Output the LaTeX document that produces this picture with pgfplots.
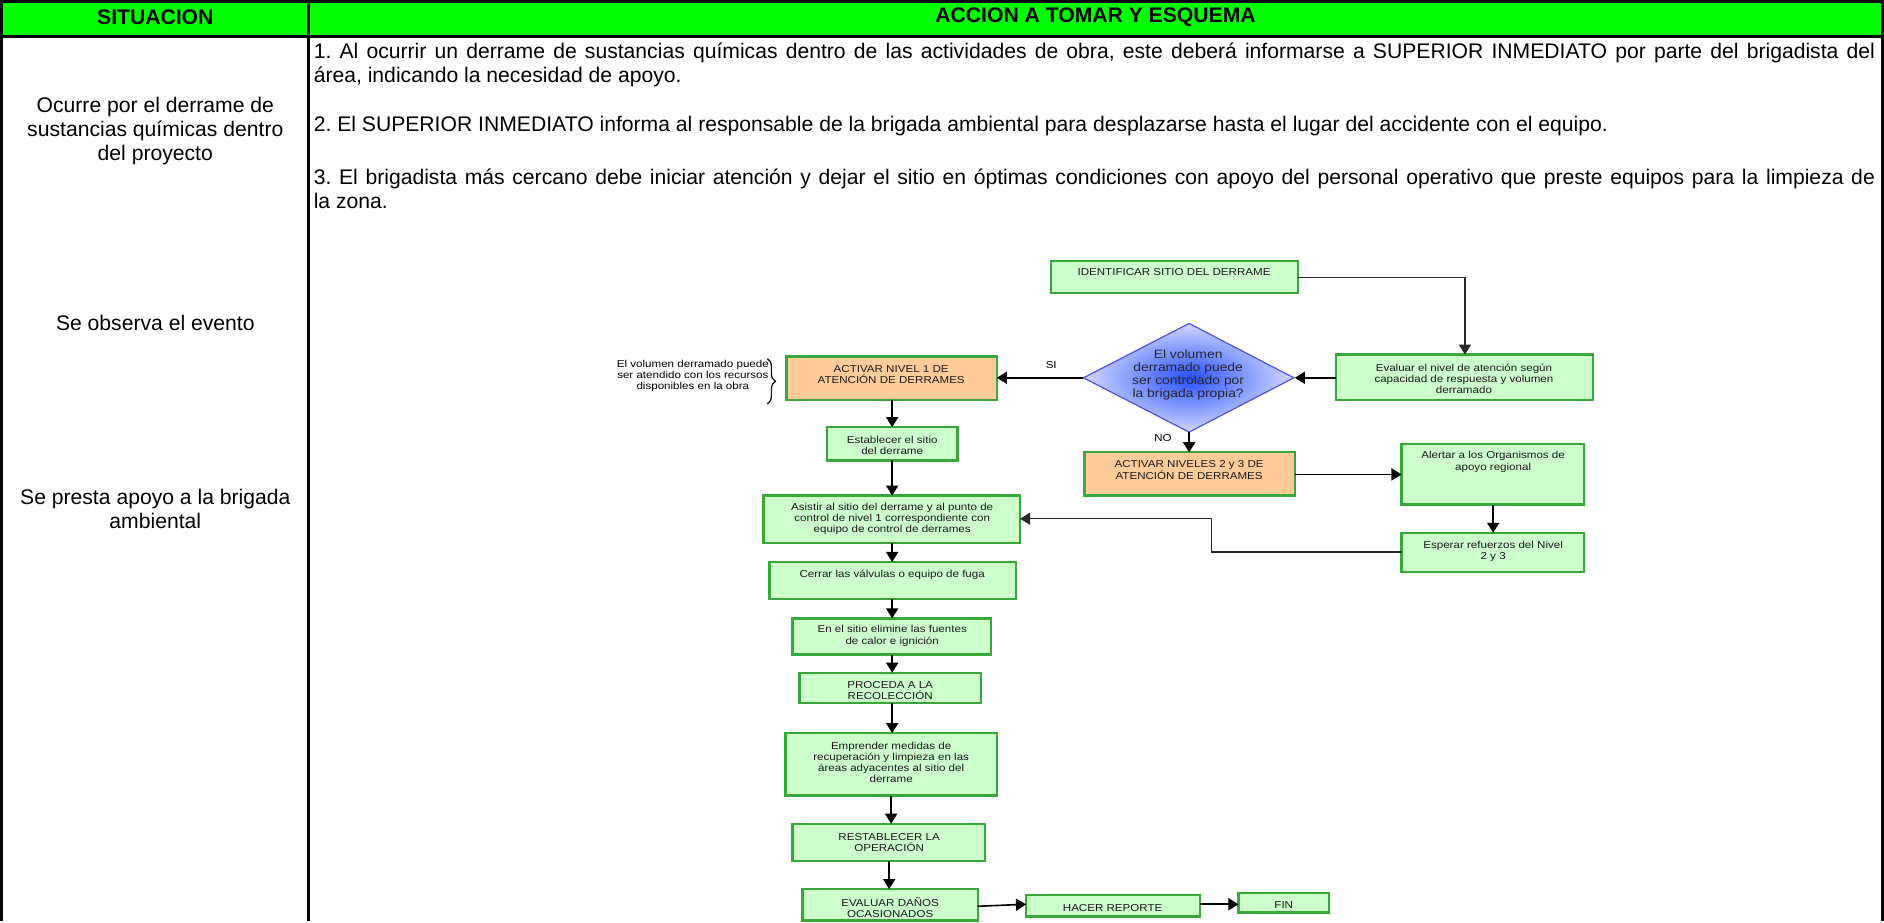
\documentclass[border=0pt]{standalone}
\usepackage{pgfplots}
\pgfplotsset{compat=1.18}
\usetikzlibrary{arrows.meta,decorations.pathreplacing}
\usepackage{fontspec}
\setmainfont{Liberation Sans}
\newfontfamily\fcf[FakeStretch=1.15]{Liberation Sans}
\frenchspacing
\definecolor{hdr}{RGB}{0,255,0}
\definecolor{gfill}{RGB}{204,255,204}
\definecolor{gline}{RGB}{56,168,56}
\definecolor{ofill}{RGB}{255,204,153}
\definecolor{dline}{RGB}{80,80,225}
\definecolor{dinner}{RGB}{40,80,255}
\definecolor{douter}{RGB}{210,216,255}
\definecolor{cline}{RGB}{40,40,40}
\newcommand{\bx}[5]{\draw[gline, line width=1.2pt, fill=#5] (axis cs:#1,#2) rectangle (axis cs:#3,#4);}
\newcommand{\tx}[3]{\node[font=\fcf\fontsize{5}{5.6}\selectfont, align=center, inner sep=0pt, text=black!90] at (axis cs:#1,#2) {#3};}
\newcommand{\bl}[3]{\node[anchor=base west, inner sep=0pt, font=\fontsize{10.5}{12}\selectfont] at (axis cs:#1,#2) {#3};}
\newcommand{\bc}[3]{\node[anchor=base, inner sep=0pt, font=\fontsize{10.5}{12}\selectfont] at (axis cs:#1,#2) {#3};}
\pgfplotsset{arr/.style={black, line width=0.8pt, -{Triangle[length=5pt,width=6pt]}},
             con/.style={cline, line width=0.6pt, -{Triangle[length=5pt,width=6pt]}}}
\begin{document}
\begin{tikzpicture}
\begin{axis}[scale only axis, width=942pt, height=460pt,
  xmin=0, xmax=1884, ymin=0, ymax=920, y dir=reverse,
  axis lines=none, ticks=none, clip=false]
% ---------- table ----------
\fill[hdr] (axis cs:7,6) rectangle (axis cs:1876,41);
\draw[black, line width=1.3pt] (axis cs:7,920) -- (axis cs:7,6) -- (axis cs:1876,6) -- (axis cs:1876,920);
\draw[black, line width=1.3pt] (axis cs:7,41) -- (axis cs:1876,41);
\draw[black, line width=1.3pt] (axis cs:312,6) -- (axis cs:312,920);
\node[font=\bfseries\fontsize{10.5}{12}\selectfont, inner sep=0pt] at (axis cs:160,22) {SITUACION};
\node[font=\bfseries\fontsize{10.5}{12}\selectfont, inner sep=0pt] at (axis cs:1094,22) {ACCION A TOMAR Y ESQUEMA};
% left column
\bc{160}{116}{Ocurre por el derrame de}
\bc{160}{140}{sustancias químicas dentro}
\bc{160}{164}{del proyecto}
\bc{160}{333.5}{Se observa el evento}
\bc{160}{505.5}{Se presta apoyo a la brigada}
\bc{160}{529.5}{ambiental}
% right column
\bl{317}{63}{\makebox[775.5pt][s]{1. Al ocurrir un derrame de sustancias químicas dentro de las actividades de obra, este deberá informarse a SUPERIOR INMEDIATO por parte del brigadista del}}
\bl{317}{87}{área, indicando la necesidad de apoyo.}
\bl{317}{135}{2. El SUPERIOR INMEDIATO informa al responsable de la brigada ambiental para desplazarse hasta el lugar del accidente con el equipo.}
\bl{317}{188}{\makebox[775.5pt][s]{3. El brigadista más cercano debe iniciar atención y dejar el sitio en óptimas condiciones con apoyo del personal operativo que preste equipos para la limpieza de}}
\bl{317}{212}{la zona.}
% ---------- flowchart boxes ----------
\bx{1050}{264}{1295}{296}{gfill}
\tx{1172}{275}{IDENTIFICAR SITIO DEL DERRAME}
\bx{1333}{357}{1588}{402}{gfill}
\tx{1460}{381}{Evaluar el nivel de atención según\\capacidad de respuesta y volumen\\derramado}
\shade[inner color=dinner, outer color=douter] (axis cs:1082,380) -- (axis cs:1187,326) -- (axis cs:1291,380) -- (axis cs:1187,434) -- cycle;
\draw[dline, line width=0.6pt] (axis cs:1082,380) -- (axis cs:1187,326) -- (axis cs:1291,380) -- (axis cs:1187,434) -- cycle;
\node[font=\fcf\fontsize{6}{6.5}\selectfont, align=center, inner sep=0pt, text=black!85] at (axis cs:1186,377) {El volumen\\derramado puede\\ser controlado por\\la brigada propia?};
\bx{787}{359}{996}{402}{ofill}
\tx{891}{377}{ACTIVAR NIVEL 1 DE\\ATENCIÓN DE DERRAMES}
\node[font=\fcf\fontsize{5}{5.6}\selectfont, align=center, inner sep=0pt] at (axis cs:694,378) {El volumen derramado puede\\ser atendido con los recursos\\disponibles en la obra};
\draw[black, line width=0.6pt, decorate, decoration={brace, amplitude=4pt}] (axis cs:768,361) -- (axis cs:768,406);
\bx{827}{429}{957}{462}{gfill}
\tx{892}{447}{Establecer el sitio\\del derrame}
\bx{764}{497}{1019}{544}{gfill}
\tx{892}{520}{Asistir al sitio del derrame y al punto de\\control de nivel 1 correspondiente con\\equipo de control de derrames}
\bx{1083}{454}{1292}{497}{ofill}
\tx{1187}{471.5}{ACTIVAR NIVELES 2 y 3 DE\\ATENCIÓN DE DERRAMES}
\bx{1398}{446}{1579}{506}{gfill}
\tx{1489}{463.5}{Alertar a los Organismos de\\apoyo regional}
\bx{1398}{534}{1579}{573}{gfill}
\tx{1489}{552.5}{Esperar refuerzos del Nivel\\2 y 3}
\bx{770}{563}{1015}{600}{gfill}
\tx{892}{576}{Cerrar las válvulas o equipo de fuga}
\bx{793}{619}{990}{655}{gfill}
\tx{892}{636.5}{En el sitio elimine las fuentes\\de calor e ignición}
\bx{800}{673}{980}{703}{gfill}
\tx{890}{691}{PROCEDA A LA\\RECOLECCIÓN}
\bx{786}{733}{996}{795}{gfill}
\tx{891}{762}{Emprender medidas de\\recuperación y limpieza en las\\áreas adyacentes al sitio del\\derrame}
\bx{793}{823}{984}{860}{gfill}
\tx{889}{841.5}{RESTABLECER LA\\OPERACIÓN}
\bx{803}{888}{977}{919}{gfill}
\tx{890}{906}{EVALUAR DAÑOS\\OCASIONADOS}
\bx{1025}{894}{1198}{915}{gfill}
\tx{1111}{907}{HACER REPORTE}
\bx{1236}{892}{1326}{911}{gfill}
\tx{1281}{904}{FIN}
\node[font=\fcf\fontsize{5}{5.6}\selectfont, inner sep=0pt] at (axis cs:1050,367) {SI};
\node[font=\fcf\fontsize{5}{5.6}\selectfont, inner sep=0pt] at (axis cs:1161,440) {NO};
% ---------- arrows ----------
\addplot[con] coordinates {(1295,280) (1461,280) (1461,357)};
\addplot[arr] coordinates {(1333,380) (1292,380)};
\addplot[arr] coordinates {(1082,380) (996,380)};
\addplot[arr] coordinates {(892,402) (892,429)};
\addplot[arr] coordinates {(892,462) (892,497)};
\addplot[arr] coordinates {(1187,434) (1187,454)};
\addplot[arr] coordinates {(1292,476) (1398,476)};
\addplot[arr] coordinates {(1489,506) (1489,534)};
\addplot[con] coordinates {(1398,553) (1209,553) (1209,520) (1019,520)};
\addplot[arr] coordinates {(892,544) (892,563)};
\addplot[arr] coordinates {(892,600) (892,619)};
\addplot[arr] coordinates {(892,655) (892,673)};
\addplot[arr] coordinates {(892,703) (892,733)};
\addplot[arr] coordinates {(891,795) (891,823)};
\addplot[arr] coordinates {(889,860) (889,888)};
\addplot[arr] coordinates {(977,905) (1025,903)};
\addplot[arr] coordinates {(1198,903) (1236,903)};
\end{axis}
\end{tikzpicture}
\end{document}
